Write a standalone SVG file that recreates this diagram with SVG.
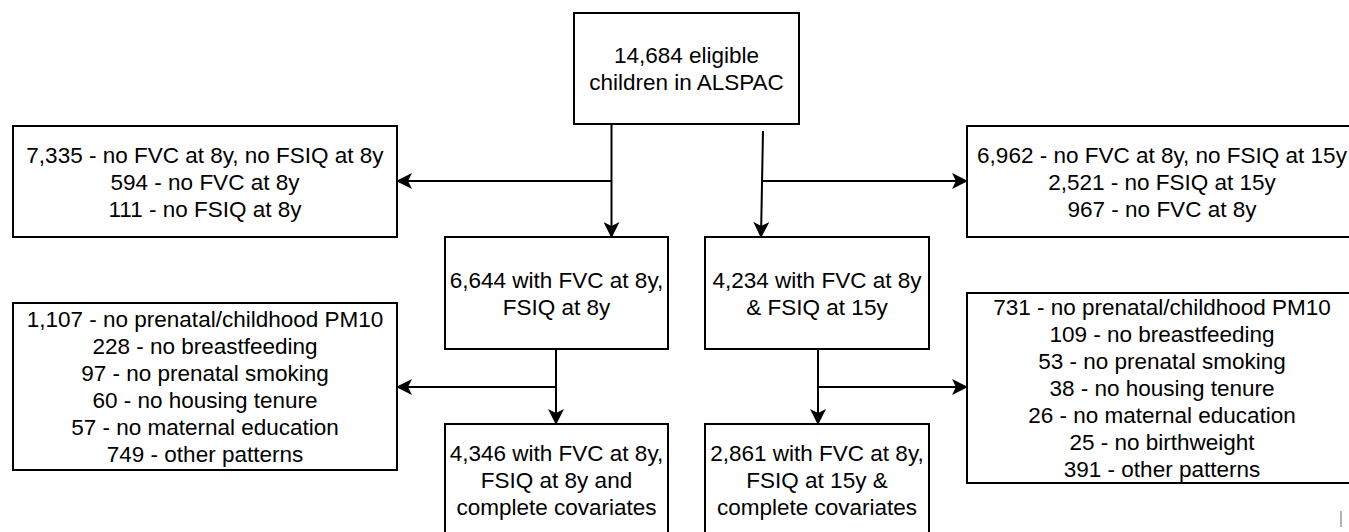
<svg xmlns="http://www.w3.org/2000/svg" width="1349" height="532" viewBox="0 0 1349 532">
<style>
.box{fill:#fff;stroke:#000;stroke-width:2}
.t{font-family:"Liberation Sans",Arial,Helvetica,sans-serif;font-size:22.5px;fill:#000;text-anchor:middle}
.edge{fill:none;stroke:#000;stroke-width:2;marker-end:url(#arr)}
.line{fill:none;stroke:#000;stroke-width:2}
</style>
<defs>
<marker id="arr" markerUnits="userSpaceOnUse" viewBox="0 -8 16 16" refX="15" refY="0" markerWidth="16" markerHeight="16" orient="auto">
<path d="M0,-8 L16,0 L0,8 L4,0 Z" fill="#000"/>
</marker>
</defs>
<rect width="1349" height="532" fill="#fff"/>
<g id="connectors">
<path class="line" d="M611.5,124 L611.5,181"/>
<path class="edge" d="M611.5,181 L611.5,237"/>
<path class="edge" d="M611.5,181 L397,181"/>
<path class="edge" d="M763,131 L761,237"/>
<path class="edge" d="M762,181 L967,181"/>
<path class="line" d="M556,349 L556,387"/>
<path class="edge" d="M556,387 L556,424"/>
<path class="edge" d="M556,387 L397,387"/>
<path class="line" d="M818,349 L818,387"/>
<path class="edge" d="M818,387 L818,424"/>
<path class="edge" d="M818,387 L967,387"/>
</g>
<g id="n-eligible">
<rect class="box" x="574" y="13" width="225" height="111"/>
<text class="t" x="686.5" y="63">14,684 eligible</text>
<text class="t" x="686.5" y="90">children in ALSPAC</text>
</g>
<g id="n-excl8">
<rect class="box" x="13" y="126" width="384" height="111"/>
<text class="t" x="205" y="163">7,335 - no FVC at 8y, no FSIQ at 8y</text>
<text class="t" x="205" y="190">594 - no FVC at 8y</text>
<text class="t" x="205" y="217">111 - no FSIQ at 8y</text>
</g>
<g id="n-excl15">
<rect class="box" x="967" y="126" width="390" height="111"/>
<text class="t" x="1162" y="163">6,962 - no FVC at 8y, no FSIQ at 15y</text>
<text class="t" x="1162" y="190">2,521 - no FSIQ at 15y</text>
<text class="t" x="1162" y="217">967 - no FVC at 8y</text>
</g>
<g id="n-with8">
<rect class="box" x="445" y="237" width="223" height="112"/>
<text class="t" x="556.5" y="288">6,644 with FVC at 8y,</text>
<text class="t" x="556.5" y="315">FSIQ at 8y</text>
</g>
<g id="n-with15">
<rect class="box" x="705" y="237" width="224" height="112"/>
<text class="t" x="817" y="288">4,234 with FVC at 8y</text>
<text class="t" x="817" y="315">&amp; FSIQ at 15y</text>
</g>
<g id="n-cov8">
<rect class="box" x="13" y="303" width="384" height="167"/>
<text class="t" x="205" y="327">1,107 - no prenatal/childhood PM10</text>
<text class="t" x="205" y="354">228 - no breastfeeding</text>
<text class="t" x="205" y="381">97 - no prenatal smoking</text>
<text class="t" x="205" y="408">60 - no housing tenure</text>
<text class="t" x="205" y="435">57 - no maternal education</text>
<text class="t" x="205" y="462">749 - other patterns</text>
</g>
<g id="n-cov15">
<rect class="box" x="967" y="293" width="390" height="190"/>
<text class="t" x="1162" y="315">731 - no prenatal/childhood PM10</text>
<text class="t" x="1162" y="342">109 - no breastfeeding</text>
<text class="t" x="1162" y="369">53 - no prenatal smoking</text>
<text class="t" x="1162" y="396">38 - no housing tenure</text>
<text class="t" x="1162" y="423">26 - no maternal education</text>
<text class="t" x="1162" y="450">25 - no birthweight</text>
<text class="t" x="1162" y="477">391 - other patterns</text>
</g>
<g id="n-final8">
<rect class="box" x="445" y="424" width="223" height="112"/>
<text class="t" x="556.5" y="461">4,346 with FVC at 8y,</text>
<text class="t" x="556.5" y="488">FSIQ at 8y and</text>
<text class="t" x="556.5" y="515">complete covariates</text>
</g>
<g id="n-final15">
<rect class="box" x="705" y="424" width="224" height="112"/>
<text class="t" x="817" y="461">2,861 with FVC at 8y,</text>
<text class="t" x="817" y="488">FSIQ at 15y &amp;</text>
<text class="t" x="817" y="515">complete covariates</text>
</g>
<path d="M1341,511 L1341,527" stroke="#666" stroke-width="1"/>
</svg>
